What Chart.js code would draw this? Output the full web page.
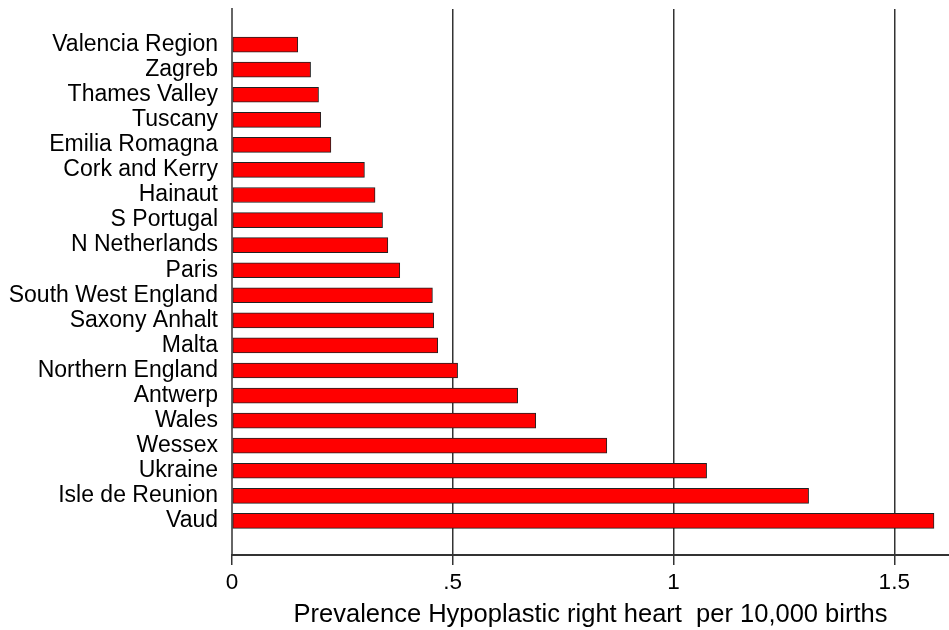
<!DOCTYPE html>
<html>
<head>
<meta charset="utf-8">
<script src="https://cdn.jsdelivr.net/npm/chart.js@4"></script>
<style>
  html, body { margin: 0; padding: 0; background: #fff; }
  #wrap { width: 949px; height: 630px; }
</style>
</head>
<body>
<div id="wrap"><canvas id="c" width="949" height="630"></canvas></div>
<script>
var regions = ["Valencia Region", "Zagreb", "Thames Valley", "Tuscany", "Emilia Romagna",
    "Cork and Kerry", "Hainaut", "S Portugal", "N Netherlands", "Paris",
    "South West England", "Saxony Anhalt", "Malta", "Northern England", "Antwerp",
    "Wales", "Wessex", "Ukraine", "Isle de Reunion", "Vaud"],
    prevalence = [0.149, 0.178, 0.196, 0.201, 0.224,
    0.300, 0.324, 0.341, 0.353, 0.380,
    0.454, 0.457, 0.466, 0.511, 0.647,
    0.688, 0.849, 1.075, 1.306, 1.590],
    xTicks = [0, 0.5, 1, 1.5],
    xTickLabels = ["0", ".5", "1", "1.5"],
    xTitle = "Prevalence Hypoplastic right heart  per 10,000 births";

var fontFam = "'Liberation Sans', Arial, sans-serif";
Chart.defaults.font.family = fontFam;
Chart.defaults.color = "#000";

var points = [];
for (var i = 0; i < regions.length; i++) {
    points.push({x: prevalence[i], y: i});
}

var ctx = document.getElementById("c").getContext("2d");
var chart = new Chart(ctx, {
    type: "bar",
    data: {
        datasets: [{
            data: points,
            backgroundColor: "#ff0000",
            borderColor: "#222",
            borderWidth: 1,
            borderSkipped: false,
            barThickness: 15
        }]
    },
    options: {
        indexAxis: "y",
        responsive: false,
        animation: false,
        layout: { padding: { top: 9, right: 0, left: 0, bottom: 0 } },
        plugins: { legend: { display: false }, tooltip: { enabled: false } },
        scales: {
            y: {
                type: "linear",
                reverse: true,
                offset: false,
                min: -1.42,
                max: 20.36,
                afterBuildTicks: function(scale) {
                    scale.ticks = regions.map(function(_, k) { return {value: k}; });
                },
                afterFit: function(scale) {
                    scale.width = 232;
                    scale.paddingTop = 0;
                    scale.paddingBottom = 0;
                },
                ticks: {
                    autoSkip: false,
                    padding: 6,
                    font: { size: 23 },
                    color: "#000",
                    callback: function(v) { return regions[v]; }
                },
                grid: { display: false, offset: false },
                border: { display: true, color: "#666", width: 2 }
            },
            x: {
                type: "linear",
                min: 0,
                max: 1.624,
                afterBuildTicks: function(scale) {
                    scale.ticks = xTicks.map(function(v) { return {value: v}; });
                },
                afterFit: function(scale) {
                    scale.height = 75;
                    scale.paddingRight = 0;
                },
                ticks: {
                    padding: 4,
                    font: { size: 22.5 },
                    color: "#000",
                    callback: function(v) {
                        var k = xTicks.indexOf(v);
                        return k >= 0 ? xTickLabels[k] : "";
                    }
                },
                grid: {
                    display: true,
                    color: "#333",
                    lineWidth: 1.5,
                    drawTicks: true,
                    tickLength: 10
                },
                border: { display: true, color: "#333", width: 2 },
                title: {
                    display: true,
                    text: xTitle,
                    font: { size: 25.5 },
                    color: "#000",
                    padding: { top: 0, bottom: 0 }
                }
            }
        }
    }
});
</script>
</body>
</html>
